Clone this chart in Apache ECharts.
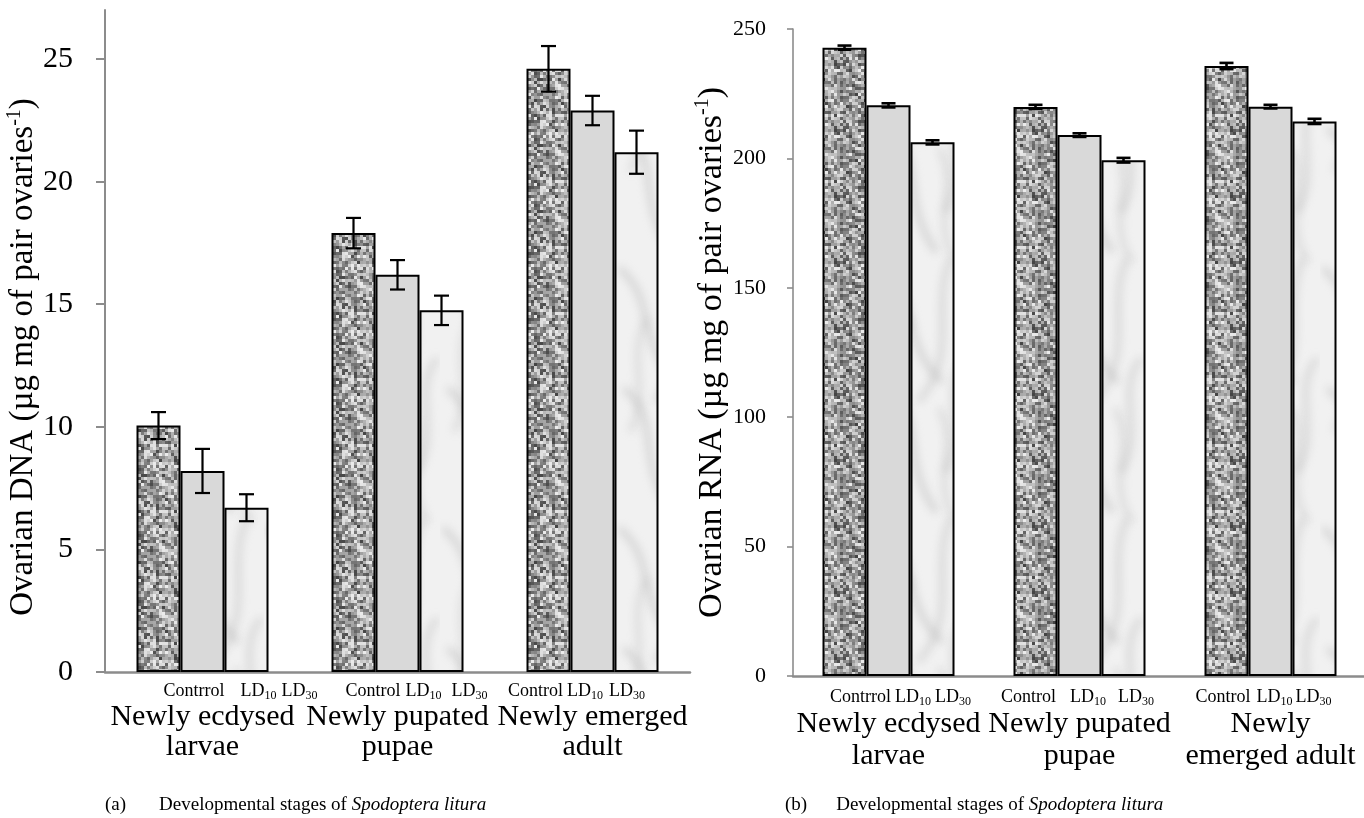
<!DOCTYPE html>
<html>
<head>
<meta charset="utf-8">
<script src="https://cdn.jsdelivr.net/npm/echarts@6/dist/echarts.min.js"></script>
<style>
html,body{margin:0;padding:0;background:#fff;}
#chart{width:1364px;height:818px;}
</style>
</head>
<body>
<div id="chart"></div>
<script>
// ---------------- data ----------------
const stagesA = ['Newly ecdysed\nlarvae', 'Newly pupated\npupae', 'Newly emerged\nadult'];
const stagesB = ['Newly ecdysed\nlarvae', 'Newly pupated\npupae', 'Newly\nemerged adult'];
const treatLabelsA = [['Contrrol', 'LD10', 'LD30'], ['Control', 'LD10', 'LD30'], ['Control', 'LD10', 'LD30']];
const treatLabelsB = [['Contrrol', 'LD10', 'LD30'], ['Control', 'LD10', 'LD30'], ['Control', 'LD10', 'LD30']];

const dnaControl = [10.05, 17.9, 24.6];
const dnaLD10 = [8.2, 16.2, 22.9];
const dnaLD30 = [6.7, 14.75, 21.2];
const dnaErrControl = [0.55, 0.62, 0.93];
const dnaErrLD10 = [0.9, 0.6, 0.6];
const dnaErrLD30 = [0.55, 0.6, 0.88];

const rnaControl = [242.8, 219.9, 235.7];
const rnaLD10 = [220.5, 209.0, 220.0];
const rnaLD30 = [206.2, 199.3, 214.3];
const rnaErrControl = [0.8, 0.8, 1.2];
const rnaErrLD10 = [0.8, 0.7, 0.7];
const rnaErrLD30 = [0.8, 0.9, 1.0];

const yTicksA = [0, 5, 10, 15, 20, 25];
const yTicksB = [0, 50, 100, 150, 200, 250];

// ---------------- layout / style ----------------
const FONT = '"Liberation Serif", "Times New Roman", serif';
const BAR_W = 44;
const gapsA = [[16, 5], [5, 10], [4, 6]];
const shiftA = [38, 19, -16];
const gapsB = [[4, 4], [14, 12], [6, 3]];
const shiftB = [12, -2, -7];

// textures (deterministic, styling only)
function makeGranite() {
  const c = document.createElement('canvas');
  c.width = 66; c.height = 66;
  const g = c.getContext('2d');
  let s = 987654321;
  const rnd = () => { s = (s * 1103515245 + 12345) & 0x7fffffff; return s / 0x7fffffff; };
  for (let y = 0; y < 66; y += 3) {
    for (let x = 0; x < 66; x += 3) {
      const r = rnd();
      const v = Math.round(65 + 170 * Math.pow(r, 0.8));
      g.fillStyle = 'rgb(' + v + ',' + v + ',' + v + ')';
      g.fillRect(x, y, 3, 3);
    }
  }
  return c;
}
function makeMarble() {
  const W = 88, H = 260;
  const c = document.createElement('canvas');
  c.width = W; c.height = H;
  const g = c.getContext('2d');
  g.fillStyle = '#f1f1f1';
  g.fillRect(0, 0, W, H);
  g.filter = 'blur(4px)';
  g.lineCap = 'round';
  const curves = [
    [5, 10, 40, 40, 20, 80, 60, 120, 6],
    [70, 0, 50, 50, 80, 90, 40, 140, 5],
    [10, 130, 45, 160, 20, 200, 55, 250, 6],
    [60, 150, 80, 190, 50, 220, 75, 260, 4],
    [30, 60, 10, 100, 35, 130, 15, 170, 4],
    [84, 100, 60, 130, 88, 170, 66, 210, 5]
  ];
  [-H, 0, H].forEach(off => {
    curves.forEach(p => {
      g.strokeStyle = 'rgba(185,185,185,0.55)';
      g.lineWidth = p[8];
      g.beginPath();
      g.moveTo(p[0], p[1] + off);
      g.bezierCurveTo(p[2], p[3] + off, p[4], p[5] + off, p[6], p[7] + off);
      g.stroke();
    });
  });
  g.filter = 'none';
  return c;
}
const granite = makeGranite();
const marble = makeMarble();

const fills = [
  { image: granite, repeat: 'repeat' },
  '#d9d9d9',
  { image: marble, repeat: 'repeat' }
];

function buildRich(bigLH) {
  const rich = {
    t: { fontFamily: FONT, fontSize: 18, lineHeight: 22, color: '#000' },
    s: { fontFamily: FONT, fontSize: 12, lineHeight: 12, verticalAlign: 'bottom', color: '#000' },
    b: { fontFamily: FONT, fontSize: 30, lineHeight: bigLH, color: '#000' }
  };
  for (let w = 1; w <= 90; w++) {
    rich['w' + w] = { width: w, fontFamily: FONT, fontSize: 18, lineHeight: 22 };
  }
  return rich;
}

function labelFormatter(treat, gaps, shifts) {
  return function (value, idx) {
    const parts = [];
    const sh = shifts[idx];
    if (sh > 0) parts.push('{w' + (2 * sh) + '|\u00a0}');
    treat[idx].forEach((t, k) => {
      if (k > 0) parts.push('{w' + gaps[idx][k - 1] + '|\u00a0}');
      const m = t.match(/^LD(\d+)$/);
      if (m) parts.push('{t|LD}{s|' + m[1] + '}');
      else parts.push('{t|' + t + '}');
    });
    if (sh < 0) parts.push('{w' + (-2 * sh) + '|\u00a0}');
    const lines = String(value).split('\n').map(l => '{b|' + l + '}');
    return parts.join('') + '\n' + lines.join('\n');
  };
}

function barSeries(name, data, k, ai) {
  return {
    type: 'bar', name: name, xAxisIndex: ai, yAxisIndex: ai,
    data: data, barWidth: BAR_W, barGap: '0%',
    itemStyle: { color: fills[k], borderColor: '#000', borderWidth: 2 },
    emphasis: { disabled: true }
  };
}

function errSeries(vals, errs, k, ai, cap, lw) {
  return {
    type: 'custom', xAxisIndex: ai, yAxisIndex: ai, z: 5, silent: true,
    data: vals.map((v, i) => [i, v, errs[i]]),
    encode: { x: 0, y: 1 },
    renderItem: function (params, api) {
      const i = api.value(0), v = api.value(1), e = api.value(2);
      const p1 = api.coord([i, v + e]);
      const p2 = api.coord([i, v - e]);
      const x = p1[0] + (k - 1) * BAR_W;
      const st = { stroke: '#000', lineWidth: lw, fill: null };
      return {
        type: 'group',
        children: [
          { type: 'line', shape: { x1: x, y1: p1[1], x2: x, y2: p2[1] }, style: st },
          { type: 'line', shape: { x1: x - cap, y1: p1[1], x2: x + cap, y2: p1[1] }, style: st },
          { type: 'line', shape: { x1: x - cap, y1: p2[1], x2: x + cap, y2: p2[1] }, style: st }
        ]
      };
    }
  };
}

const nameRich = (fs) => ({
  m: { fontFamily: FONT, fontSize: fs, lineHeight: fs + 4, color: '#000' },
  sup: { fontFamily: FONT, fontSize: Math.round(fs * 0.6), lineHeight: Math.round(fs * 0.6), verticalAlign: 'top', color: '#000' }
});

const captionRich = (gap) => ({
  n: { fontFamily: FONT, fontSize: 19, lineHeight: 24, fontWeight: 'normal', color: '#000' },
  g: { width: gap, fontFamily: FONT, fontSize: 19, lineHeight: 24, fontWeight: 'normal' },
  t: { fontFamily: FONT, fontSize: 19, lineHeight: 24, fontWeight: 'normal', color: '#000' },
  i: { fontFamily: FONT, fontSize: 19, lineHeight: 24, fontWeight: 'normal', fontStyle: 'italic', color: '#000' }
});

const axisGray = '#8c8c8c';

const option = {
  animation: false,
  backgroundColor: '#fff',
  title: [
    { left: 100, top: 788, text: '{n|(a)}{g|\u00a0}{t|Developmental stages of }{i|Spodoptera litura}', textStyle: { fontWeight: 'normal', rich: captionRich(33) } },
    { left: 780, top: 788, text: '{n|(b)}{g|\u00a0}{t|Developmental stages of }{i|Spodoptera litura}', textStyle: { fontWeight: 'normal', rich: captionRich(29) } }
  ],
  grid: [
    { left: 105, top: 10, width: 585, height: 662, containLabel: false, outerBoundsMode: 'none' },
    { left: 793, top: 29, width: 573, height: 647, containLabel: false, outerBoundsMode: 'none' }
  ],
  xAxis: [
    {
      type: 'category', gridIndex: 0, data: stagesA,
      axisLine: { lineStyle: { color: axisGray, width: 2.5 } },
      axisTick: { show: false },
      axisLabel: { interval: 0, margin: 8, hideOverlap: false, formatter: labelFormatter(treatLabelsA, gapsA, shiftA), rich: buildRich(30) },
      splitLine: { show: false }
    },
    {
      type: 'category', gridIndex: 1, data: stagesB,
      axisLine: { lineStyle: { color: axisGray, width: 2.5 } },
      axisTick: { show: false },
      axisLabel: { interval: 0, margin: 10, hideOverlap: false, formatter: labelFormatter(treatLabelsB, gapsB, shiftB), rich: buildRich(32) },
      splitLine: { show: false }
    }
  ],
  yAxis: [
    {
      type: 'value', gridIndex: 0, min: 0, max: 27, interval: 5,
      axisLine: { show: true, lineStyle: { color: axisGray, width: 2 } },
      axisTick: { show: true, length: 9, customValues: yTicksA, lineStyle: { color: axisGray, width: 2 } },
      axisLabel: { customValues: yTicksA, fontFamily: FONT, fontSize: 30, color: '#000', margin: 32 },
      splitLine: { show: false },
      name: '{m|Ovarian DNA (\u00b5g mg of pair ovaries}{sup|-1}{m|)}',
      nameLocation: 'middle', nameRotate: 90, nameGap: 63, nameMoveOverlap: false,
      nameTextStyle: { rich: nameRich(33), padding: [0, 32, 0, 0] }
    },
    {
      type: 'value', gridIndex: 1, min: 0, max: 250, interval: 50,
      axisLine: { show: true, lineStyle: { color: axisGray, width: 1.6 } },
      axisTick: { show: true, length: 6, customValues: yTicksB, lineStyle: { color: axisGray, width: 1.6 } },
      axisLabel: { customValues: yTicksB, fontFamily: FONT, fontSize: 22, color: '#000', margin: 27 },
      splitLine: { show: false },
      name: '{m|Ovarian RNA (\u00b5g mg of pair ovaries}{sup|-1}{m|)}',
      nameLocation: 'middle', nameRotate: 90, nameGap: 62, nameMoveOverlap: false,
      nameTextStyle: { rich: nameRich(34) }
    }
  ],
  series: [
    barSeries('Control', dnaControl, 0, 0),
    barSeries('LD10', dnaLD10, 1, 0),
    barSeries('LD30', dnaLD30, 2, 0),
    barSeries('Control', rnaControl, 0, 1),
    barSeries('LD10', rnaLD10, 1, 1),
    barSeries('LD30', rnaLD30, 2, 1),
    errSeries(dnaControl, dnaErrControl, 0, 0, 7.5, 2.2),
    errSeries(dnaLD10, dnaErrLD10, 1, 0, 7.5, 2.2),
    errSeries(dnaLD30, dnaErrLD30, 2, 0, 7.5, 2.2),
    errSeries(rnaControl, rnaErrControl, 0, 1, 7, 2.6),
    errSeries(rnaLD10, rnaErrLD10, 1, 1, 7, 2.6),
    errSeries(rnaLD30, rnaErrLD30, 2, 1, 7, 2.6)
  ]
};

const chart = echarts.init(document.getElementById('chart'), null, { renderer: 'canvas' });
chart.setOption(option);
</script>
</body>
</html>
